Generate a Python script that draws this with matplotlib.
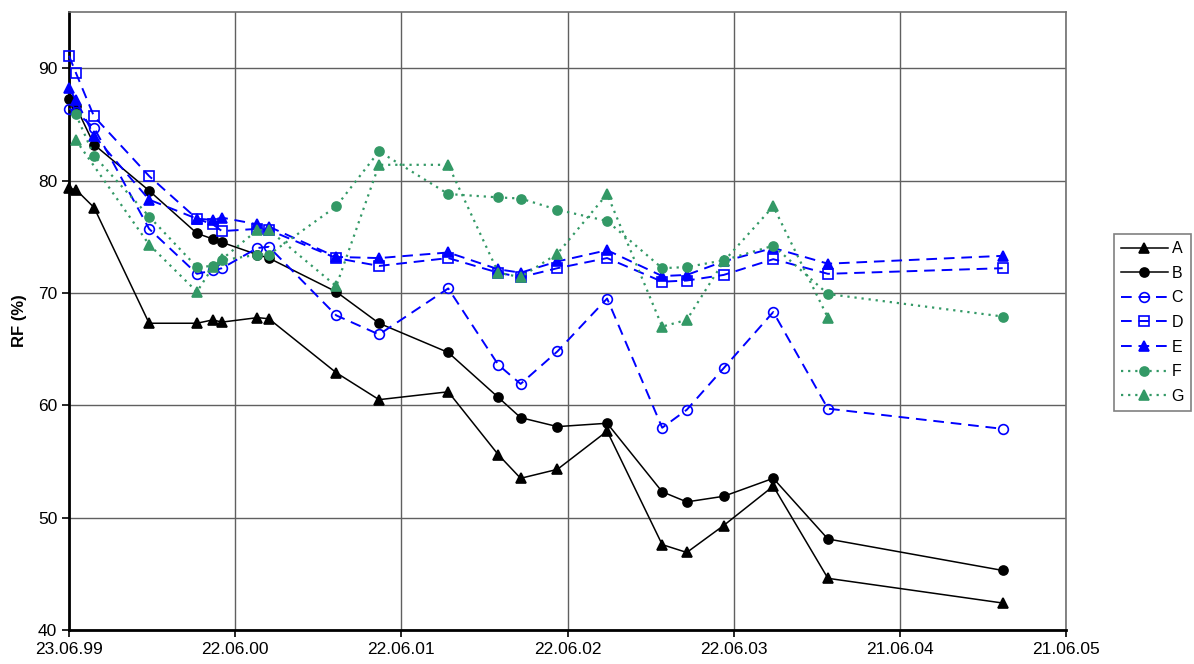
import numpy as np
import pandas as pd
import matplotlib
matplotlib.use("Agg")
import matplotlib.pyplot as plt
import matplotlib.dates as mdates

plt.rcParams["font.family"] = ["Liberation Sans", "DejaVu Sans"]

# sampling dates, as days after the first sample (23.06.99)
start = pd.Timestamp("1999-06-23")
days = [0, 15, 55, 176, 281, 316, 336, 414, 439, 587, 681, 833, 943, 992,
        1073, 1182, 1303, 1357, 1438, 1547, 1667, 2051]

nan = np.nan
A = [79.3, 79.2, 77.6, 67.3, 67.3, 67.6, 67.4, 67.8, 67.7, 62.9, 60.5, 61.2,
     55.6, 53.5, 54.3, 57.7, 47.6, 46.9, 49.3, 52.8, 44.6, 42.4]
B = [87.3, 86.6, 83.2, 79.1, 75.3, 74.8, 74.5, 73.4, 73.1, 70.1, 67.3, 64.7,
     60.7, 58.9, 58.1, 58.4, 52.3, 51.4, 51.9, 53.5, 48.1, 45.3]
C = [86.4, 86.1, 84.7, 75.7, 71.7, 72.0, 72.2, 74.0, 74.1, 68.0, 66.3, 70.4,
     63.6, 61.9, 64.8, 69.5, 58.0, 59.6, 63.3, 68.3, 59.7, 57.9]
D = [91.1, 89.6, 85.7, 80.4, 76.6, 76.1, 75.5, 75.7, 75.6, 73.1, 72.4, 73.1,
     71.8, 71.4, 72.2, 73.1, 71.0, 71.1, 71.6, 73.0, 71.7, 72.2]
E = [88.2, 87.2, 84.0, 78.3, 76.6, 76.5, 76.7, 76.1, 75.9, 73.2, 73.1, 73.6,
     72.1, 71.8, 72.8, 73.8, 71.5, 71.6, 72.8, 74.0, 72.6, 73.3]
F = [nan, 85.9, 82.2, 76.8, 72.3, 72.4, 72.9, 73.4, 73.4, 77.7, 82.6, 78.8,
     78.5, 78.4, 77.4, 76.4, 72.2, 72.3, 72.9, 74.2, 69.9, 67.9]
G = [nan, 83.6, nan, 74.3, 70.1, 72.3, 73.0, 75.6, 75.6, 70.6, 81.4, 81.4,
     71.8, 71.4, 73.5, 78.8, 67.0, 67.6, 72.8, 77.7, 67.8, nan]

dates = start + pd.to_timedelta(days, unit="D")
blue = "#0000FF"
green = "#339966"

styles = [
    ("A", A, dict(color="black", marker="^", mfc="black", ms=7, lw=1.1)),
    ("B", B, dict(color="black", marker="o", mfc="black", ms=6.5, lw=1.1)),
    ("C", C, dict(color=blue, marker="o", mfc="none", ms=7, lw=1.4, dashes=(5.5, 3.5))),
    ("D", D, dict(color=blue, marker="s", mfc="none", ms=7, lw=1.4, dashes=(5.5, 3.5))),
    ("E", E, dict(color=blue, marker="^", mfc=blue, ms=7, lw=1.4, dashes=(5.5, 3.5))),
    ("F", F, dict(color=green, marker="o", mfc=green, ms=6.5, lw=1.6, dashes=(1, 2.2))),
    ("G", G, dict(color=green, marker="^", mfc=green, ms=7, lw=1.6, dashes=(1, 2.2))),
]

fig = plt.figure(figsize=(11.94, 6.64), dpi=100)
ax = fig.add_axes([69 / 1194, 34 / 664, (1066 - 69) / 1194, (630 - 12) / 664])

for name, vals, kw in styles:
    v = np.array(vals, dtype=float)
    m = ~np.isnan(v)
    ax.plot(dates[m], v[m], label=name, mew=1.2, mec=kw["color"], clip_on=False,
            zorder=3, **kw)

ticks = [start + pd.Timedelta(days=365 * k) for k in range(7)]
ax.set_xticks(ticks)
ax.xaxis.set_major_formatter(mdates.DateFormatter("%d.%m.%y"))
ax.set_xlim(ticks[0], ticks[-1])
ax.set_ylim(40, 95)
ax.set_yticks(range(40, 91, 10))
ax.grid(True, color="#606060", linewidth=1)
ax.set_axisbelow(True)
ax.tick_params(labelsize=12.5, direction="out", length=5, width=1.2, colors="black")
ax.set_ylabel("RF (%)", fontsize=12, fontweight="bold", labelpad=8)

for s in ["left", "bottom"]:
    ax.spines[s].set_linewidth(2)
    ax.spines[s].set_color("black")
for s in ["top", "right"]:
    ax.spines[s].set_linewidth(1.2)
    ax.spines[s].set_color("#707070")

leg = fig.legend(loc="upper left", bbox_to_anchor=(1114 / 1194, 1 - 234 / 664),
                 fontsize=11.5, numpoints=1, handlelength=2.9, fancybox=False,
                 framealpha=1, edgecolor="#808080", borderpad=0.45,
                 labelspacing=0.6, handletextpad=0.25, borderaxespad=0)
leg.get_frame().set_linewidth(1.2)

fig.savefig("out.png", dpi=100)
